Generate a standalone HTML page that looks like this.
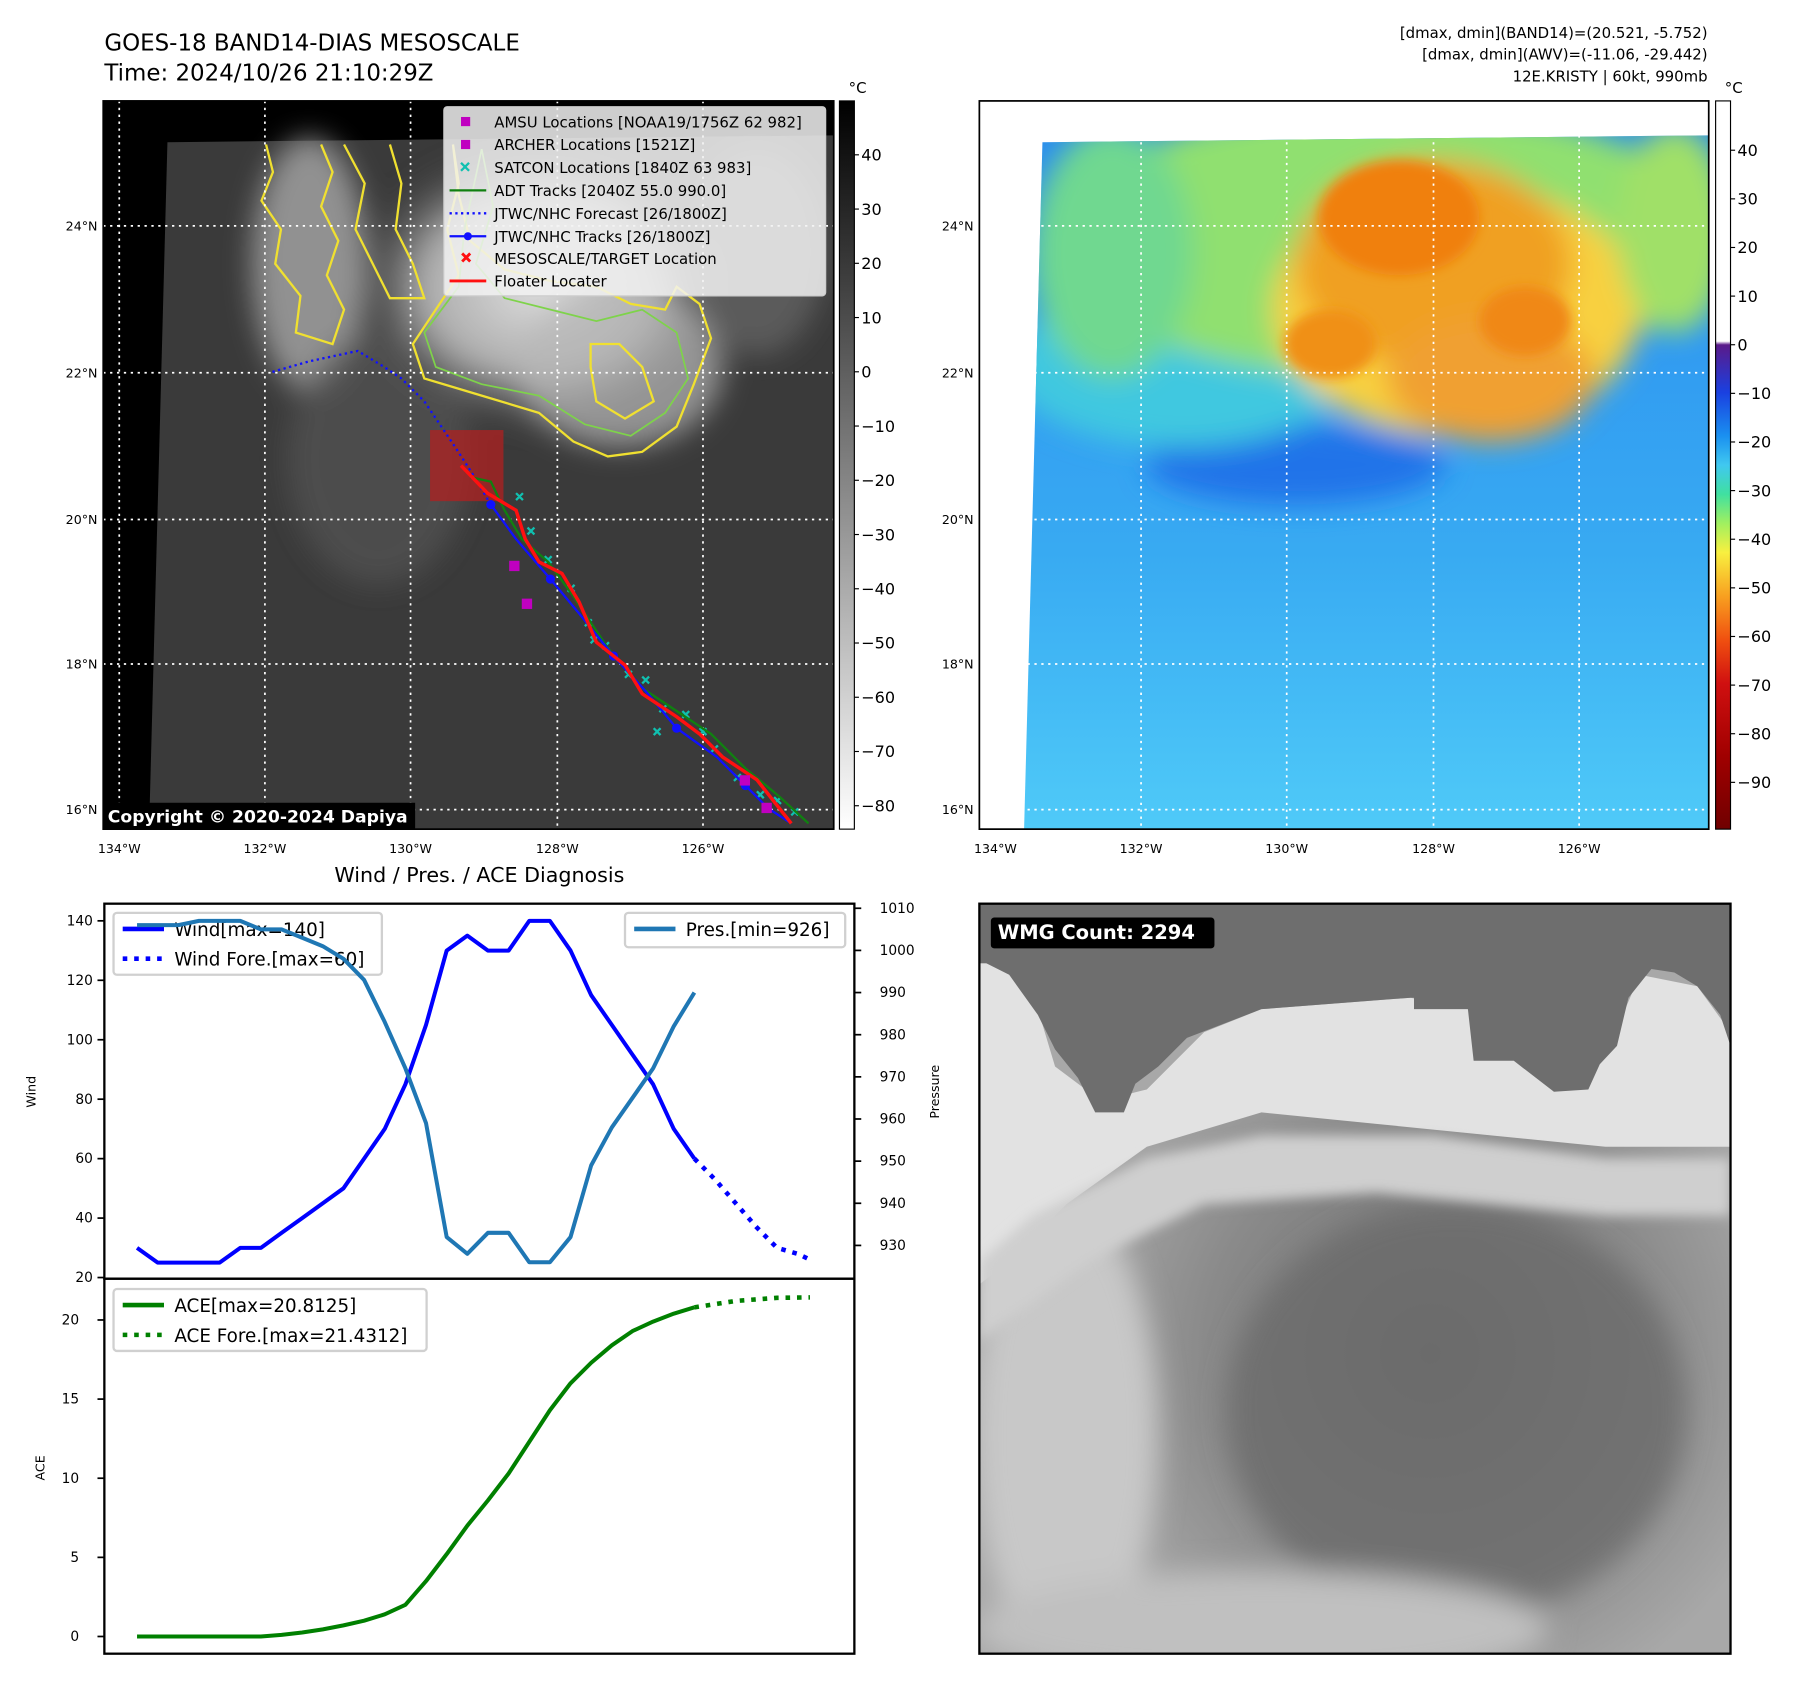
<!DOCTYPE html>
<html><head><meta charset="utf-8">
<style>
html,body{margin:0;padding:0;background:#fff;}
body{width:1797px;height:1690px;overflow:hidden;font-family:"Liberation Sans","DejaVu Sans",sans-serif;}
#wrap{position:absolute;left:0;top:0;width:1567px;height:1474px;transform:scale(1.1468);transform-origin:0 0;}
svg text{font-family:"DejaVu Sans","Liberation Sans",sans-serif;}
</style></head><body>
<div id="wrap">
<svg width="1567" height="1474" viewBox="0 0 1567 1474" xmlns="http://www.w3.org/2000/svg">
<defs>
<linearGradient id="cb1" x1="0" y1="0" x2="0" y2="1"><stop offset="0" stop-color="#000"/><stop offset="1" stop-color="#fff"/></linearGradient>
<linearGradient id="cb2" x1="0" y1="0" x2="0" y2="1">
<stop offset="0" stop-color="#fff"/><stop offset="0.33" stop-color="#fff"/><stop offset="0.335" stop-color="#5a1a8a"/>
<stop offset="0.40" stop-color="#1a40e0"/><stop offset="0.46" stop-color="#1a90f0"/><stop offset="0.50" stop-color="#40c8f0"/>
<stop offset="0.54" stop-color="#40e0a0"/><stop offset="0.58" stop-color="#a0f060"/><stop offset="0.62" stop-color="#f8f040"/>
<stop offset="0.68" stop-color="#f8a020"/><stop offset="0.74" stop-color="#f05010"/><stop offset="0.80" stop-color="#d01010"/>
<stop offset="0.90" stop-color="#a00000"/><stop offset="1" stop-color="#700000"/></linearGradient>
<radialGradient id="cloud1" cx="0.5" cy="0.5" r="0.5"><stop offset="0" stop-color="#e0e0e0"/><stop offset="0.6" stop-color="#c0c0c0" stop-opacity="0.85"/><stop offset="1" stop-color="#3a3a3a" stop-opacity="0"/></radialGradient>
<linearGradient id="sea2" x1="0" y1="0" x2="0" y2="1"><stop offset="0" stop-color="#2a8cf0"/><stop offset="0.6" stop-color="#38aaf2"/><stop offset="1" stop-color="#4fcaf8"/></linearGradient>
<radialGradient id="gray3" cx="0.6" cy="0.6" r="0.5"><stop offset="0" stop-color="#6c6c6c"/><stop offset="0.6" stop-color="#8a8a8a"/><stop offset="1" stop-color="#a8a8a8"/></radialGradient>
<filter id="bl"><feGaussianBlur stdDeviation="12"/></filter>
<filter id="bl2"><feGaussianBlur stdDeviation="5"/></filter>
<clipPath id="c1"><rect x="90" y="88" width="637" height="635"/></clipPath>
<clipPath id="c2"><rect x="854" y="88" width="636" height="635"/></clipPath>
<clipPath id="c3"><rect x="854" y="788" width="655" height="654"/></clipPath>
</defs>

<text x="91" y="44" font-size="20">GOES-18 BAND14-DIAS MESOSCALE</text>
<text x="91" y="70" font-size="20">Time: 2024/10/26 21:10:29Z</text>
<g font-size="13" text-anchor="end">
<text x="1489" y="33">[dmax, dmin](BAND14)=(20.521, -5.752)</text>
<text x="1489" y="52">[dmax, dmin](AWV)=(-11.06, -29.442)</text>
<text x="1489" y="71">12E.KRISTY | 60kt, 990mb</text>
</g>

<!-- MAP 1 -->
<g clip-path="url(#c1)">
<rect x="90" y="88" width="637" height="635" fill="#000"/>
<polygon points="146,124 727,118 727,723 130,723" fill="#3a3a3a"/>
<g filter="url(#bl)">
<ellipse cx="470" cy="250" rx="170" ry="130" fill="url(#cloud1)"/>
<ellipse cx="540" cy="320" rx="90" ry="70" fill="#b8b8b8" opacity="0.7"/>
<ellipse cx="270" cy="230" rx="50" ry="110" fill="#a8a8a8" opacity="0.8"/>
<ellipse cx="330" cy="400" rx="80" ry="110" fill="#555" opacity="0.7"/>
<ellipse cx="660" cy="220" rx="60" ry="90" fill="#707070" opacity="0.6"/>
</g>
<g fill="none" stroke="#f0e030" stroke-width="2">
<path d="M232,126 L238,150 L228,175 L245,200 L240,230 L262,258 L258,290 L290,300 L300,270 L285,240 L295,210 L280,180 L290,150 L280,126"/>
<path d="M300,126 L318,160 L310,200 L330,240 L340,260 L370,260 L360,230 L345,200 L350,160 L340,126"/>
<path d="M395,126 L400,160 L390,200 L400,240 L380,270 L360,300 L370,330 L420,345 L470,360 L500,385 L530,398 L560,394 L590,372 L605,335 L620,295 L610,265 L590,250 L580,270 L550,265 L520,250 L480,245 L440,235 L410,210 L400,170 L395,126"/>
<path d="M515,300 L540,300 L560,320 L570,350 L545,365 L520,350 L515,320 Z"/>
</g>
<g fill="none" stroke="#7ed34a" stroke-width="1.5">
<path d="M420,130 L430,180 L415,230 L440,260 L480,270 L520,280 L560,270 L590,290 L600,330 L580,360 L550,380 L510,370 L470,345 L420,335 L380,320 L370,290 L400,250 L405,200 L420,130"/>
</g>
<rect x="375" y="375" width="64" height="62" fill="#b02020" opacity="0.75"/>
<g stroke="#fff" stroke-width="1.5" stroke-dasharray="2,4" fill="none">
<line x1="104" y1="88" x2="104" y2="723"/><line x1="231" y1="88" x2="231" y2="723"/><line x1="358" y1="88" x2="358" y2="723"/><line x1="486" y1="88" x2="486" y2="723"/><line x1="613" y1="88" x2="613" y2="723"/>
<line x1="90" y1="197" x2="727" y2="197"/><line x1="90" y1="325" x2="727" y2="325"/><line x1="90" y1="453" x2="727" y2="453"/><line x1="90" y1="579" x2="727" y2="579"/><line x1="90" y1="706" x2="727" y2="706"/>
</g>
<polyline points="428,440 410,410 397,390 370,350 350,330 335,320 312,306 270,315 235,325" fill="none" stroke="#1010ff" stroke-width="2" stroke-dasharray="2,3"/>
<g stroke="#10c0b0" stroke-width="2">
<path d="M450,430 l6,6 m0,-6 l-6,6 M460,460 l6,6 m0,-6 l-6,6 M475,485 l6,6 m0,-6 l-6,6 M495,510 l6,6 m0,-6 l-6,6 M510,540 l6,6 m0,-6 l-6,6 M525,560 l6,6 m0,-6 l-6,6 M545,585 l6,6 m0,-6 l-6,6 M560,590 l6,6 m0,-6 l-6,6 M575,615 l6,6 m0,-6 l-6,6 M595,620 l6,6 m0,-6 l-6,6 M610,635 l6,6 m0,-6 l-6,6 M620,650 l6,6 m0,-6 l-6,6 M640,675 l6,6 m0,-6 l-6,6 M660,690 l6,6 m0,-6 l-6,6 M675,695 l6,6 m0,-6 l-6,6 M690,705 l6,6 m0,-6 l-6,6 M515,555 l6,6 m0,-6 l-6,6 M570,635 l6,6 m0,-6 l-6,6"/>
</g>
<polyline points="410,416 428,420 440,445 455,470 478,490 500,520 530,565 560,600 590,620 620,640 650,670 680,695 705,718" fill="none" stroke="#108010" stroke-width="2"/>
<polyline points="428,440 450,470 480,505 505,535 535,572 565,605 590,635 625,660 650,685 670,705 690,718" fill="none" stroke="#1010ff" stroke-width="2"/>
<g fill="#1010ff"><circle cx="428" cy="440" r="4"/><circle cx="480" cy="505" r="4"/><circle cx="535" cy="572" r="4"/><circle cx="590" cy="635" r="4"/><circle cx="650" cy="685" r="4"/></g>
<polyline points="402,406 425,430 450,445 458,470 470,490 490,500 505,525 520,560 545,580 560,605 590,625 610,640 630,660 660,680 690,718" fill="none" stroke="#ff1010" stroke-width="3"/>
<g fill="#c000c0"><rect x="444" y="489" width="9" height="9"/><rect x="455" y="522" width="9" height="9"/><rect x="645" y="676" width="9" height="9"/><rect x="664" y="700" width="9" height="9"/></g>
</g>
<rect x="90" y="88" width="637" height="635" fill="none" stroke="#000" stroke-width="1.5"/>
<rect x="90" y="700" width="272" height="23" fill="#000"/>
<text x="94" y="717" font-size="15" font-weight="bold" fill="#fff">Copyright © 2020-2024 Dapiya</text>
<g>
<rect x="387" y="93" width="333" height="165" rx="3" fill="#f2f2f2" fill-opacity="0.85" stroke="#ccc"/>
<g font-size="13" fill="#000">
<rect x="402" y="102" width="8" height="8" fill="#c000c0"/><text x="431" y="111">AMSU Locations [NOAA19/1756Z 62 982]</text>
<rect x="402" y="122" width="8" height="8" fill="#c000c0"/><text x="431" y="131">ARCHER Locations [1521Z]</text>
<path d="M402,142 l7,7 m0,-7 l-7,7" stroke="#10c0b0" stroke-width="2"/><text x="431" y="151">SATCON Locations [1840Z 63 983]</text>
<line x1="392" y1="166" x2="424" y2="166" stroke="#108010" stroke-width="2"/><text x="431" y="171">ADT Tracks [2040Z 55.0 990.0]</text>
<line x1="392" y1="186" x2="424" y2="186" stroke="#1010ff" stroke-width="2" stroke-dasharray="2,3"/><text x="431" y="191">JTWC/NHC Forecast [26/1800Z]</text>
<line x1="392" y1="206" x2="424" y2="206" stroke="#1010ff" stroke-width="2"/><circle cx="408" cy="206" r="3.5" fill="#1010ff"/><text x="431" y="211">JTWC/NHC Tracks [26/1800Z]</text>
<path d="M403,221 l7,7 m0,-7 l-7,7" stroke="#ff1010" stroke-width="2.5"/><text x="431" y="230">MESOSCALE/TARGET Location</text>
<line x1="392" y1="245" x2="424" y2="245" stroke="#ff1010" stroke-width="2.5"/><text x="431" y="250">Floater Locater</text>
</g></g>
<g font-size="11" text-anchor="end">
<text x="85" y="201">24°N</text><text x="85" y="329">22°N</text><text x="85" y="457">20°N</text><text x="85" y="583">18°N</text><text x="85" y="710">16°N</text></g>
<g font-size="11" text-anchor="middle">
<text x="104" y="744">134°W</text><text x="231" y="744">132°W</text><text x="358" y="744">130°W</text><text x="486" y="744">128°W</text><text x="613" y="744">126°W</text></g>
<rect x="732" y="88" width="13" height="635" fill="url(#cb1)" stroke="#000"/>
<text x="740" y="81" font-size="13">°C</text>
<g id="cb1t" font-size="14"></g>

<!-- MAP 2 -->
<g clip-path="url(#c2)">
<rect x="854" y="88" width="636" height="635" fill="#fff"/>
<polygon points="909,124 1490,118 1490,723 893,723" fill="url(#sea2)"/>
<clipPath id="c2b"><polygon points="909,124 1490,118 1490,723 893,723"/></clipPath>
<g clip-path="url(#c2b)">
<g filter="url(#bl)">
<ellipse cx="1130" cy="405" rx="130" ry="35" fill="#1c6ee8" opacity="0.9"/>
<ellipse cx="1030" cy="320" rx="150" ry="70" fill="#40c8e0"/>
<ellipse cx="1210" cy="210" rx="290" ry="120" fill="#90e070"/>
<ellipse cx="970" cy="220" rx="70" ry="110" fill="#70d890"/>
<ellipse cx="1270" cy="270" rx="160" ry="110" fill="#f8d040"/>
<ellipse cx="1250" cy="230" rx="120" ry="90" fill="#f0a020"/>
<ellipse cx="1300" cy="330" rx="90" ry="55" fill="#f0a030"/>
<ellipse cx="1460" cy="200" rx="50" ry="90" fill="#a0e068"/>
</g>
<g filter="url(#bl2)">
<ellipse cx="1220" cy="190" rx="70" ry="50" fill="#f08010"/>
<ellipse cx="1330" cy="280" rx="40" ry="30" fill="#f08818"/>
<ellipse cx="1160" cy="300" rx="40" ry="30" fill="#f09018"/>
</g></g>
<g stroke="#fff" stroke-width="1.5" stroke-dasharray="2,4">
<line x1="868" y1="88" x2="868" y2="723"/><line x1="995" y1="88" x2="995" y2="723"/><line x1="1122" y1="88" x2="1122" y2="723"/><line x1="1250" y1="88" x2="1250" y2="723"/><line x1="1377" y1="88" x2="1377" y2="723"/>
<line x1="854" y1="197" x2="1490" y2="197"/><line x1="854" y1="325" x2="1490" y2="325"/><line x1="854" y1="453" x2="1490" y2="453"/><line x1="854" y1="579" x2="1490" y2="579"/><line x1="854" y1="706" x2="1490" y2="706"/>
</g></g>
<rect x="854" y="88" width="636" height="635" fill="none" stroke="#000" stroke-width="1.5"/>
<g font-size="11" text-anchor="end"><text x="849" y="201">24°N</text><text x="849" y="329">22°N</text><text x="849" y="457">20°N</text><text x="849" y="583">18°N</text><text x="849" y="710">16°N</text></g>
<g font-size="11" text-anchor="middle"><text x="868" y="744">134°W</text><text x="995" y="744">132°W</text><text x="1122" y="744">130°W</text><text x="1250" y="744">128°W</text><text x="1377" y="744">126°W</text></g>
<rect x="1496" y="88" width="13" height="635" fill="url(#cb2)" stroke="#000"/>
<text x="1504" y="81" font-size="13">°C</text>
<g id="cb2t" font-size="14"></g>

<!-- BOTTOM RIGHT -->
<g clip-path="url(#c3)">
<rect x="854" y="788" width="655" height="654" fill="url(#gray3)"/>
<g filter="url(#bl)">
<ellipse cx="1270" cy="1230" rx="200" ry="180" fill="#6a6a6a" opacity="0.8"/>
<ellipse cx="930" cy="1250" rx="80" ry="200" fill="#c8c8c8"/>
<ellipse cx="1100" cy="1420" rx="250" ry="50" fill="#c0c0c0"/>
</g>
<polygon points="854,840 880,840 905,880 920,930 960,960 1000,950 1050,900 1100,880 1230,870 1280,880 1300,920 1360,930 1400,920 1430,850 1480,860 1509,900 1509,1000 1400,1000 1300,990 1200,980 1100,970 1000,1000 930,1050 880,1100 854,1120" fill="#e2e2e2"/>
<g filter="url(#bl2)"><polygon points="854,1100 900,1060 1000,1010 1100,990 1250,990 1400,1010 1509,1010 1509,1060 1400,1060 1200,1040 1050,1050 950,1100 880,1150 854,1170" fill="#cfcfcf"/></g>
<polygon points="854,788 1509,788 1509,912 1500,885 1480,860 1460,848 1440,845 1420,870 1410,912 1395,928 1385,950 1355,952 1320,925 1285,925 1280,880 1233,880 1233,848 1280,848 1260,870 1230,870 1100,880 1035,905 1010,930 990,945 980,970 955,970 940,940 920,915 905,885 880,850 860,840 854,840" fill="#6e6e6e"/>
</g>
<rect x="854" y="788" width="655" height="654" fill="none" stroke="#000" stroke-width="2"/>
<rect x="864" y="800" width="195" height="27" rx="3" fill="#000"/>
<text x="870" y="819" font-size="17" font-weight="bold" fill="#fff">WMG Count: 2294</text>

<text x="418" y="769" font-size="18" text-anchor="middle">Wind / Pres. / ACE Diagnosis</text>
<g id="chart"></g>
</svg>
</div>
<script>
const windIdx = [0,1,2,3,4,5,6,7,8,9,10,11,12,13,14,15,16,17,18,19,20,21,22,23,24,25,26,27];
const windVals = [30,25,25,25,25,30,30,35,40,45,50,60,70,85,105,130,135,130,130,140,140,130,115,105,95,85,70,60];
const windForeIdx = [27,28,29,30,31,32,32.6];
const windForeVals = [60,53,45,37,30,28,26];
const presVals = [1006,1006,1006,1007,1007,1007,1005,1005,1003,1001,998,993,983,972,959,932,928,933,933,926,926,932,949,958,965,972,982,990];
const aceVals = [0,0,0,0,0,0,0,0.1,0.25,0.45,0.7,1.0,1.4,2.0,3.5,5.2,7.0,8.6,10.3,12.3,14.3,16.0,17.3,18.4,19.3,19.9,20.4,20.8];
const aceForeIdx = [27,29,31,32.6];
const aceForeVals = [20.8,21.2,21.4,21.43];
const windTicks = [20,40,60,80,100,120,140];
const presTicks = [930,940,950,960,970,980,990,1000,1010];
const aceTicks = [0,5,10,15,20];
const cb1Ticks = [40,30,20,10,0,-10,-20,-30,-40,-50,-60,-70,-80];
const cb2Ticks = [40,30,20,10,0,-10,-20,-30,-40,-50,-60,-70,-80,-90];

const NS="http://www.w3.org/2000/svg";
function mk(tag, attrs, parent){const e=document.createElementNS(NS,tag);for(const k in attrs)e.setAttribute(k,attrs[k]);parent.appendChild(e);return e;}
const L=91,R=745,T1=788,B1=1115,B2=1442;
const xs=i=>119.5+18*i;
const yW=v=>1114-(v-20)*2.592;
const yP=v=>1086-(v-930)*3.675;
const yA=v=>1427-v*13.8;
const g=document.getElementById('chart');

let r1=mk('rect',{x:L,y:T1,width:R-L,height:B1-T1,fill:'none',stroke:'#000','stroke-width':2},g);


let r2=mk('rect',{x:L,y:B1,width:R-L,height:B2-B1,fill:'none',stroke:'#000','stroke-width':2},g);



windTicks.forEach(v=>{const y=yW(v);mk('line',{x1:L-6,y1:y,x2:L,y2:y,stroke:'#000','stroke-width':1.5},g);
 const t=mk('text',{x:L-10,y:y+4,'font-size':12,'text-anchor':'end'},g);t.textContent=v;
 
 });
presTicks.forEach(v=>{const y=yP(v);mk('line',{x1:R,y1:y,x2:R+6,y2:y,stroke:'#000','stroke-width':1.5},g);
 const t=mk('text',{x:R+22,y:y+4,'font-size':12},g);t.textContent=v;
 
 });
aceTicks.forEach(v=>{const y=yA(v);mk('line',{x1:L-6,y1:y,x2:L,y2:y,stroke:'#000','stroke-width':1.5},g);
 const t=mk('text',{x:L-22,y:y+4,'font-size':12,'text-anchor':'end'},g);t.textContent=v;
 
 });
let t1=mk('text',{x:0,y:0,'font-size':11,'text-anchor':'middle',transform:'translate(31,952) rotate(-90)'},g);t1.textContent='Wind';


let t2=mk('text',{x:0,y:0,'font-size':11,'text-anchor':'middle',transform:'translate(819,952) rotate(-90)'},g);t2.textContent='Pressure';


let t3=mk('text',{x:0,y:0,'font-size':11,'text-anchor':'middle',transform:'translate(39,1280) rotate(-90)'},g);t3.textContent='ACE';



function legend(x,y,w,h,items,name){
 const lg=mk('g',{},g);
 
 
 mk('rect',{x:x,y:y,width:w,height:h,rx:3,fill:'#fff','fill-opacity':0.8,stroke:'#d0d0d0','stroke-width':2},lg);
 items.forEach((it,k)=>{const yy=y+14+k*26;
  mk('line',{x1:x+8,y1:yy,x2:x+44,y2:yy,stroke:it.c,'stroke-width':4,'stroke-dasharray':it.d?'4,6':'none'},lg);
  const t=mk('text',{x:x+53,y:yy+6,'font-size':16},lg);t.textContent=it.t;});
}
const pts=(ix,vals,fy)=>ix.map((i,k)=>xs(i).toFixed(1)+','+fy(vals[k]).toFixed(1)).join(' ');
let lw=mk('polyline',{points:pts(windIdx,windVals,yW),fill:'none',stroke:'#0000ff','stroke-width':3.5,'stroke-linejoin':'round'},g);


let lwf=mk('polyline',{points:pts(windForeIdx,windForeVals,yW),fill:'none',stroke:'#0000ff','stroke-width':4,'stroke-dasharray':'4,6'},g);


legend(99,796,234,54,[{c:'#0000ff',t:'Wind[max=140]'},{c:'#0000ff',t:'Wind Fore.[max=60]',d:1}],'wind-legend');
let lp=mk('polyline',{points:pts(windIdx,presVals,yP),fill:'none',stroke:'#1f77b4','stroke-width':3.5,'stroke-linejoin':'round'},g);


legend(545,796,192,30,[{c:'#1f77b4',t:'Pres.[min=926]'}],'pressure-legend');
let la=mk('polyline',{points:pts(windIdx,aceVals,yA),fill:'none',stroke:'#008000','stroke-width':3.5,'stroke-linejoin':'round'},g);


let laf=mk('polyline',{points:pts(aceForeIdx,aceForeVals,yA),fill:'none',stroke:'#008000','stroke-width':4,'stroke-dasharray':'4,6'},g);


legend(99,1124,273,54,[{c:'#008000',t:'ACE[max=20.8125]'},{c:'#008000',t:'ACE Fore.[max=21.4312]',d:1}],'ace-legend');

const c1=document.getElementById('cb1t');
cb1Ticks.forEach(v=>{const y=135+(40-v)*4.73;mk('line',{x1:745,y1:y,x2:749,y2:y,stroke:'#000'},c1);
 const t=mk('text',{x:751,y:y+5},c1);t.textContent=v<0?'\u2212'+(-v):v;
 
 });
const c2=document.getElementById('cb2t');
cb2Ticks.forEach(v=>{const y=131+(40-v)*4.24;mk('line',{x1:1509,y1:y,x2:1513,y2:y,stroke:'#000'},c2);
 const t=mk('text',{x:1515,y:y+5},c2);t.textContent=v<0?'\u2212'+(-v):v;
 
 });
</script>
</body></html>
